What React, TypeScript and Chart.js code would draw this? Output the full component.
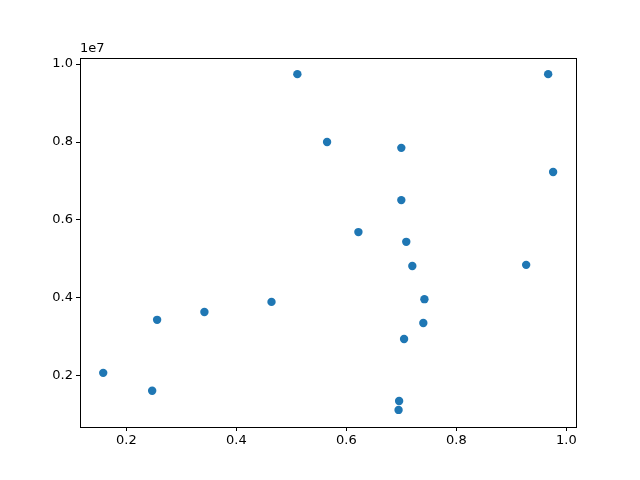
import React, { useEffect, useRef } from "react";
import { Chart, registerables } from "chart.js";

Chart.register(...registerables);

const xValues = [0.511, 0.967, 0.565, 0.700, 0.976, 0.700, 0.622, 0.709, 0.720, 0.927, 0.464, 0.742, 0.342, 0.256, 0.740, 0.705, 0.158, 0.247, 0.696, 0.695];
const yValues = [9.74e6, 9.74e6, 8.0e6, 7.85e6, 7.23e6, 6.51e6, 5.69e6, 5.44e6, 4.82e6, 4.85e6, 3.90e6, 3.97e6, 3.64e6, 3.44e6, 3.36e6, 2.95e6, 2.08e6, 1.62e6, 1.36e6, 1.13e6];
const xTicks = [0.2, 0.4, 0.6, 0.8, 1.0];
const yTicks = [2e6, 4e6, 6e6, 8e6, 1e7];
const offsetText = "1e7";

const FONT = "DejaVu Sans";

const framePlugin = {
  id: "frame",
  afterDraw(chart: any) {
    const { ctx, chartArea } = chart;
    const { left, top, right, bottom } = chartArea;
    ctx.save();
    ctx.strokeStyle = "#000";
    ctx.lineWidth = 1;
    ctx.strokeRect(Math.round(left) + 0.5, Math.round(top) + 0.5, Math.round(right - left), Math.round(bottom - top));
    ctx.fillStyle = "#000";
    ctx.font = `13px '${FONT}'`;
    ctx.textAlign = "left";
    ctx.textBaseline = "alphabetic";
    ctx.fillText(offsetText, left, top - 6);
    ctx.restore();
  },
};

export default function App() {
  const ref = useRef<HTMLCanvasElement | null>(null);
  useEffect(() => {
    document.body.style.margin = "0";
    const canvas = ref.current!;
    const data = xValues.map((x, i) => ({ x, y: yValues[i] }));
    const chart = new Chart(canvas, {
      type: "scatter",
      data: {
        datasets: [
          {
            data,
            backgroundColor: "#1f77b4",
            borderColor: "#1f77b4",
            borderWidth: 0,
            pointRadius: 4.2,
            pointHoverRadius: 4.2,
          },
        ],
      },
      plugins: [framePlugin],
      options: {
        responsive: false,
        animation: false,
        devicePixelRatio: 1,
        layout: { padding: { top: 58, right: 64, bottom: 0, left: 0 } },
        plugins: { legend: { display: false }, tooltip: { enabled: false } },
        scales: {
          x: {
            type: "linear",
            min: 0.1158,
            max: 1.0176,
            afterFit: (s: any) => { s.height = 53; },
            afterBuildTicks: (s: any) => { s.ticks = xTicks.map((v) => ({ value: v })); },
            grid: { display: true, drawOnChartArea: false, drawTicks: true, tickLength: 4, color: "#000", lineWidth: 1 },
            border: { display: true, color: "#000" },
            ticks: {
              color: "#000",
              font: { family: FONT, size: 13 },
              padding: 2,
              maxRotation: 0,
              callback: (v: any) => Number(v).toFixed(1),
            },
          },
          y: {
            type: "linear",
            min: 0.0692e7,
            max: 1.0154e7,
            afterFit: (s: any) => { s.width = 80; },
            afterBuildTicks: (s: any) => { s.ticks = yTicks.map((v) => ({ value: v })); },
            grid: { display: true, drawOnChartArea: false, drawTicks: true, tickLength: 4, color: "#000", lineWidth: 1 },
            border: { display: true, color: "#000" },
            ticks: {
              color: "#000",
              font: { family: FONT, size: 13 },
              padding: 3,
              callback: (v: any) => (Number(v) / 1e7).toFixed(1),
            },
          },
        },
      },
    });
    return () => chart.destroy();
  }, []);
  return <canvas ref={ref} width={640} height={480} style={{ display: "block" }} />;
}
